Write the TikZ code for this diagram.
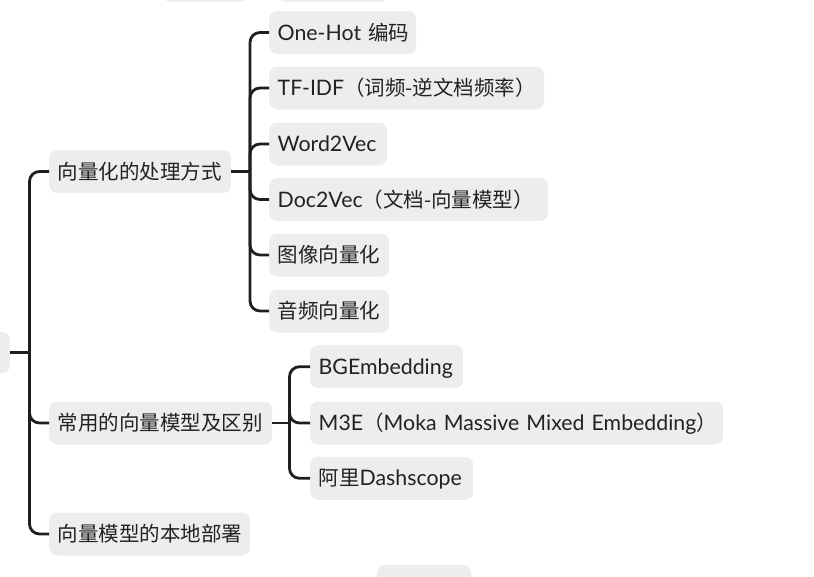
\documentclass[tikz,border=0pt]{standalone}
\usepackage{fontspec}
\setmainfont{Lato}[Scale=1.04]
\newfontfamily\cjk{Noto Sans CJK SC}
\definecolor{boxfill}{HTML}{EDEDED}
\definecolor{linecol}{HTML}{1E1E1E}
\definecolor{txtcol}{HTML}{222222}
\tikzset{
  topic/.style={fill=boxfill, rounded corners=8pt, anchor=west, inner xsep=8.5pt,
    minimum height=43pt, text height=19.2pt, text depth=4pt, align=left,
    text=txtcol, font=\fontsize{20.5}{24}\selectfont},
  ghost/.style={fill=boxfill, rounded corners=8pt, inner sep=0pt},
  link/.style={draw=linecol, line width=2.8pt, rounded corners=10pt},
  stem/.style={draw=linecol, line width=2.8pt}
}
\begin{document}
\begin{tikzpicture}[x=1pt,y=-1pt]
\useasboundingbox (0,0) rectangle (814,576);
\clip (0,0) rectangle (814,576);
% partially visible boxes at the edges
\node[ghost, minimum width=86pt, minimum height=40pt] (top1) at (205,-18.3) {};
\node[ghost, minimum width=111pt, minimum height=40pt] (top2) at (332.5,-18.3) {};
\node[ghost, minimum width=110pt, minimum height=41pt] (root) at (-45,352.5) {};
\node[ghost, minimum width=94pt, minimum height=43pt] (bot1) at (424,586.5) {};
% level 1
\node[topic, text width=165pt] (n1) at (49,171.5) {\mbox{\cjk 向量化的处理方式}};
\node[topic, text width=206pt] (n2) at (49,423) {\mbox{\cjk 常用的向量模型及区别}};
\node[topic, text width=184pt] (n3) at (49,534) {\mbox{\cjk 向量模型的本地部署}};
% level 2 under n1
\node[topic, text width=130pt] (a1) at (269,32.5) {\mbox{One-Hot {\cjk 编码}}};
\node[topic, text width=258pt] (a2) at (269,88) {\mbox{TF-IDF{\cjk （词频-逆文档频率）}}};
\node[topic, text width=101pt] (a3) at (269,144) {\mbox{Word2Vec}};
\node[topic, text width=262pt] (a4) at (269,199.5) {\mbox{Doc2Vec{\cjk （文档-向量模型）}}};
\node[topic, text width=103pt] (a5) at (269,255) {\mbox{\cjk 图像向量化}};
\node[topic, text width=103pt] (a6) at (269,311) {\mbox{\cjk 音频向量化}};
% level 2 under n2
\node[topic, text width=136pt] (b1) at (310,366.7) {\mbox{BGEmbedding}};
\node[topic, text width=396pt] (b2) at (310,423) {\mbox{M3E{\cjk （}Moka Massive Mixed Embedding{\cjk ）}}};
\node[topic, text width=146pt] (b3) at (310,478.3) {\mbox{{\cjk 阿里}Dashscope}};
% junctions
\coordinate (j0) at (29.5,352.5);
\coordinate (j1) at (250,171.5);
\coordinate (j2) at (289.5,423);
% connectors
\draw[stem] (root.east) -- (j0);
\draw[stem] (n1.east) -- (j1);
\draw[stem] (n2.east) -- (j2);
\foreach \c in {n1,n2,n3} \draw[link] (j0) |- (\c.west);
\foreach \c in {a1,a2,a3,a4,a5,a6} \draw[link] (j1) |- (\c.west);
\foreach \c in {b1,b2,b3} \draw[link] (j2) |- (\c.west);
\end{tikzpicture}
\end{document}
